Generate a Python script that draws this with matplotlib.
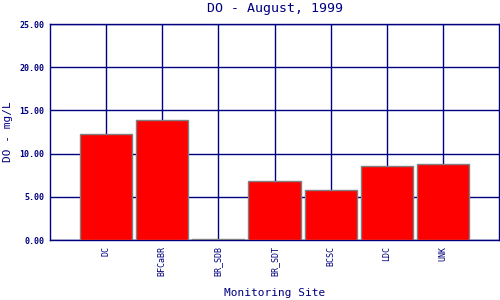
import matplotlib
matplotlib.use('Agg')
import matplotlib.pyplot as plt
import numpy as np

# DO readings per monitoring site, August 1999
sites = ['DC', 'BFCaBR', 'BR_SDB', 'BR_SDT', 'BCSC', 'LDC', 'UNK']
do_mgl = [12.23, 13.85, 0.1, 6.79, 5.75, 8.53, 8.76]
y_ticks = [0, 5, 10, 15, 20, 25]

navy = '#000080'
plt.rcParams['font.family'] = 'DejaVu Sans Mono'

fig = plt.figure(figsize=(5, 3), dpi=100)
ax = fig.add_axes([0.1, 0.2, 0.898, 0.72])

x = np.arange(len(sites))
ax.grid(True, color=navy, linewidth=1)
ax.set_axisbelow(True)
ax.bar(x, do_mgl, width=0.93, color='#ff0000', edgecolor='#808080', linewidth=1, zorder=3)

ax.set_xlim(-1, len(sites))
ax.set_ylim(0, 25)
ax.set_xticks(x)
ax.set_xticklabels(sites, rotation=90, fontsize=6, color=navy)
ax.set_yticks(y_ticks)
ax.set_yticklabels(['%.2f' % v for v in y_ticks], fontsize=6, color=navy, fontweight='bold')
ax.tick_params(length=0, pad=4)
for s in ax.spines.values():
    s.set_color(navy)
    s.set_linewidth(1)

fig.text(0.55, 0.973, 'DO - August, 1999', ha='center', va='center', fontsize=9.5, color=navy)
fig.text(0.55, 0.023, 'Monitoring Site', ha='center', va='center', fontsize=8, color=navy)
fig.text(0.016, 0.56, 'DO - mg/L', ha='center', va='center', rotation=90, fontsize=8, color=navy)

fig.savefig('out.png', dpi=100)
